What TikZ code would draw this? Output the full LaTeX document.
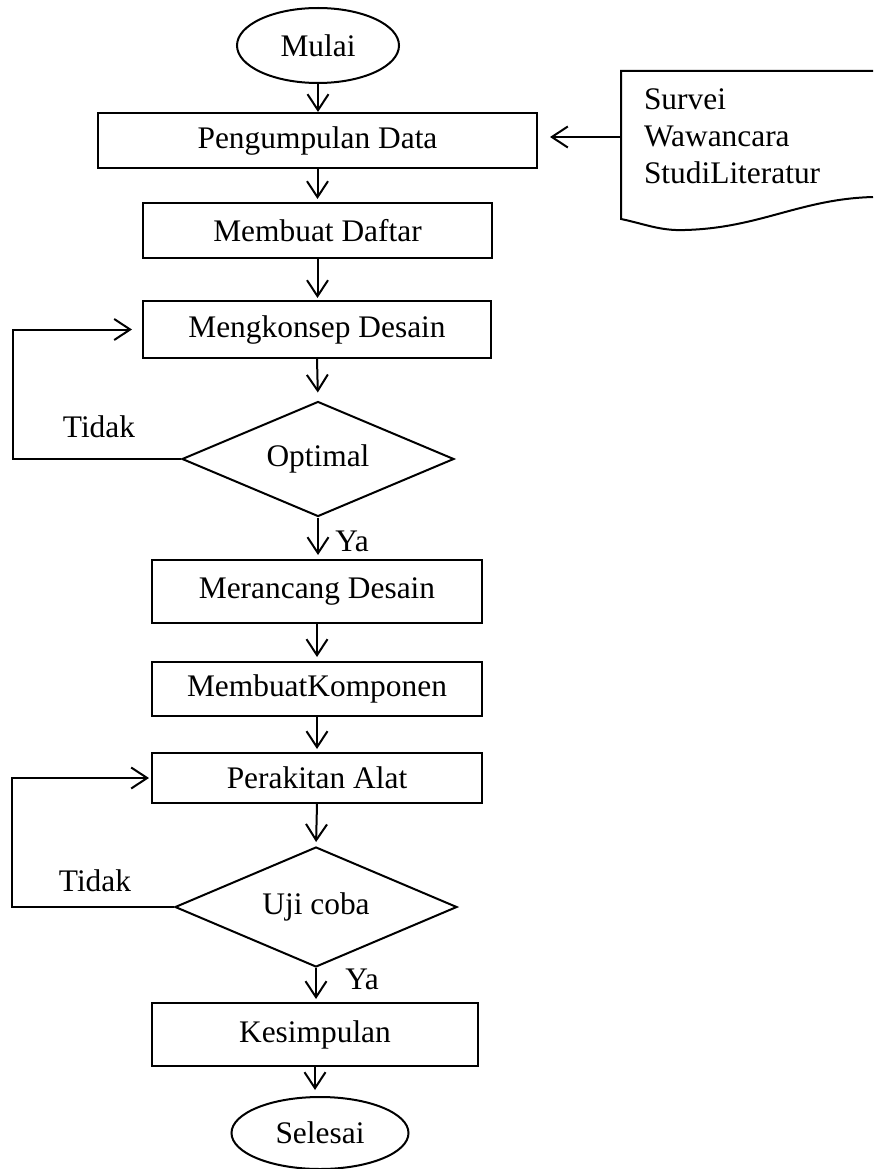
\documentclass[tikz,border=0pt]{standalone}
\usepackage{fontspec}
\setmainfont{Liberation Serif}
\usetikzlibrary{shapes.geometric,arrows.meta}

\begin{document}
\begin{tikzpicture}[x=1pt,y=1pt,yscale=-1,line width=2pt,
  every node/.style={font=\fontsize{31.4}{36}\selectfont},
  proc/.style={draw,rectangle,inner sep=0pt},
  term/.style={draw,ellipse,inner sep=0pt},
  dec/.style={draw,diamond,inner sep=0pt,aspect=2.4},
  lbl/.style={inner sep=0pt},
  arr/.style={-{Straight Barb[length=16pt,width=21pt,line width=2pt]}}]
\useasboundingbox (0,0) rectangle (873,1169);

% main column
\node[term,minimum width=162pt,minimum height=75pt] (mulai) at (318,45.5) {Mulai};
\node[proc,minimum width=439pt,minimum height=55pt] (kumpul) at (317.5,140.5) {Pengumpulan Data};
\node[proc,minimum width=349pt,minimum height=55pt] (daftar) at (317.5,230.5) {Membuat Daftar};
\node[proc,minimum width=348pt,minimum height=57pt] (konsep) at (317,329.5) {Mengkonsep Desain};
\node[dec,minimum width=272pt,minimum height=115pt] (optimal) at (318,459) {Optimal};
\node[proc,minimum width=330pt,minimum height=63pt] (rancang) at (317,591.5) {Merancang Desain};
\node[proc,minimum width=330pt,minimum height=54pt] (komponen) at (317,689) {MembuatKomponen};
\node[proc,minimum width=330pt,minimum height=50pt] (rakit) at (317,778) {Perakitan Alat};
\node[dec,minimum width=282pt,minimum height=120pt] (uji) at (316,907) {Uji coba};
\node[proc,minimum width=326pt,minimum height=63pt] (simpul) at (315,1034.5) {Kesimpulan};
\node[term,minimum width=177pt,minimum height=72pt] (selesai) at (320,1133) {Selesai};

% document (sumber data)
\draw (873,71) -- (621,71) -- (621,219) .. controls (645,224) and (660,231) .. (685,230)
  .. controls (760,228) and (800,199) .. (873,197);
\node[lbl,anchor=base west] (survei) at (643,110) {Survei};
\node[lbl,anchor=base west] (wawancara) at (643,147) {Wawancara};
\node[lbl,anchor=base west] (studi) at (643,183) {StudiLiteratur};
\coordinate (docin) at (621,137);

% labels
\node[lbl] (tidak1) at (99,427) {Tidak};
\node[lbl] (ya1) at (352,541) {Ya};
\node[lbl] (tidak2) at (95,881) {Tidak};
\node[lbl] (ya2) at (362,979) {Ya};

% arrows
\draw[arr] (mulai.south) -- (mulai.south |- kumpul.north);
\draw[arr] (docin) -- ([xshift=12pt]kumpul.east |- docin);
\draw[arr,shorten >=3pt] (kumpul.south) -- (kumpul.south |- daftar.north);
\draw[arr,shorten >=2pt] (daftar.south) -- (daftar.south |- konsep.north);
\draw[arr,shorten >=8pt] (konsep.south) -- (optimal.north);
\draw[arr,shorten >=4pt] (optimal.south) -- (optimal.south |- rancang.north);
\draw[arr,shorten >=4pt] (rancang.south) -- (rancang.south |- komponen.north);
\draw[arr,shorten >=3pt] (komponen.south) -- (komponen.south |- rakit.north);
\draw[arr,shorten >=4pt] (rakit.south) -- (uji.north);
\draw[arr,shorten >=3pt] (uji.south) -- (uji.south |- simpul.north);
\draw[arr,shorten >=6pt] (simpul.south) -- (simpul.south |- selesai.north);
\draw[arr] (optimal.west) -- ++(-168,0) |- ([xshift=-10pt]konsep.west);
\draw[arr] (uji.west) -- ++(-162,0) |- ([xshift=-2pt]rakit.west);

\end{tikzpicture}
\end{document}
